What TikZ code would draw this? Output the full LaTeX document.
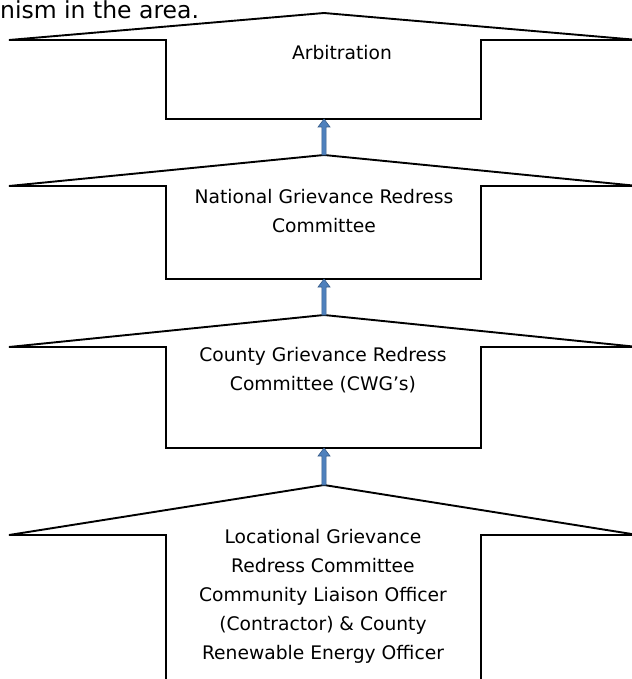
\documentclass[tikz,border=0pt]{standalone}
\usepackage{fontspec}
\setmainfont{DejaVu Sans}
\usetikzlibrary{calc}
\definecolor{arrowfill}{HTML}{4F81BD}
\definecolor{arrowline}{HTML}{385D8A}
\newcommand\uparr[2]{%
  \filldraw[uparrow] ($(#1)+(-2.1,0)$) -- ($(#2)+(-2.1,8)$) -- ($(#2)+(-6,8)$) -- (#2)
    -- ($(#2)+(6,8)$) -- ($(#2)+(2.1,8)$) -- ($(#1)+(2.1,0)$) -- cycle;}
\begin{document}
\begin{tikzpicture}[x=1pt,y=-1pt,
  shapeline/.style={draw=black, line width=1.9pt, line join=miter},
  boxtext/.style={align=center, font=\fontsize{18.7}{29}\selectfont, inner sep=0pt},
  uparrow/.style={fill=arrowfill, draw=arrowline, line width=0.6pt, line join=miter}]
\useasboundingbox (0,0) rectangle (631,679);
\foreach \n/\ya/\yw/\yb in {A/13/40/119, B/155/186/279, C/315/347/448, D/485/535/700} {
  \draw[shapeline] (9,\yw) -- (324,\ya) coordinate (apex\n) -- (638,\yw) -- (481,\yw)
    -- (481,\yb) -- (166,\yb) -- (166,\yw) -- cycle;
  \coordinate (bot\n) at (324,\yb);
}
\uparr{apexB}{botA}
\uparr{apexC}{botB}
\uparr{apexD}{botC}
\node[boxtext] (tA) at (342,53) {Arbitration};
\node[boxtext] (tB) at (324,211) {National Grievance Redress\\Committee};
\node[boxtext] (tC) at (323,370) {County Grievance Redress\\Committee (CWG’s)};
\node[boxtext] (tD) at (323,596) {Locational Grievance\\Redress Committee\\Community Liaison Officer\\(Contractor) \& County\\Renewable Energy Officer};
\node[anchor=base west, inner sep=0pt, font=\fontsize{23.5}{27}\selectfont] (top) at (0,19) {nism in the area.};
\end{tikzpicture}
\end{document}
